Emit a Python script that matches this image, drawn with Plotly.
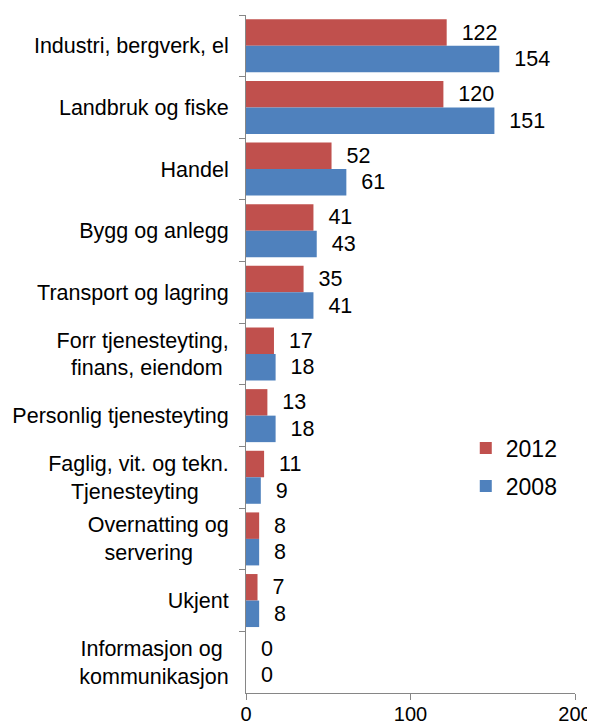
import plotly.graph_objects as go

categories = [
    "Industri, bergverk, el",
    "Landbruk og fiske",
    "Handel",
    "Bygg og anlegg",
    "Transport og lagring",
    "Forr tjenesteyting,<br>finans, eiendom\u00a0",
    "Personlig tjenesteyting",
    "Faglig, vit. og tekn.<br>Tjenesteyting" + "\u00a0" * 5,
    "Overnatting og<br>servering" + "\u00a0" * 6,
    "Ukjent",
    "Informasjon og\u00a0<br>kommunikasjon",
]
values_2012 = [122, 120, 52, 41, 35, 17, 13, 11, 8, 7, 0]
values_2008 = [154, 151, 61, 43, 41, 18, 18, 9, 8, 8, 0]
x_ticks = [0, 100, 200]

FONT = "Liberation Sans, Arial, sans-serif"
pad = "\u00a0\u00a0"
FS = 21.5

fig = go.Figure()
fig.add_trace(go.Bar(
    y=categories, x=values_2012, orientation="h", name="2012",
    marker=dict(color="#C0504D", line=dict(width=0)),
    text=[pad + str(v) for v in values_2012], textposition="outside",
    textfont=dict(family=FONT, size=FS, color="#000000"),
    cliponaxis=False, constraintext="none", legendgroup="a",
))
fig.add_trace(go.Bar(
    y=categories, x=values_2008, orientation="h", name="2008",
    marker=dict(color="#4F81BD", line=dict(width=0)),
    text=[pad + str(v) for v in values_2008], textposition="outside",
    textfont=dict(family=FONT, size=FS, color="#000000"),
    cliponaxis=False, constraintext="none", legendgroup="b",
))

# page body has an 8px default margin, so the figure is sized/offset to compensate
fig.update_layout(
    width=587, height=719,
    margin=dict(l=238, r=20, t=7, b=34),
    paper_bgcolor="white", plot_bgcolor="white",
    barmode="group", bargap=0.14, bargroupgap=0,
    font=dict(family=FONT, size=FS, color="#000000"),
    showlegend=True,
    legend=dict(x=0.668, y=0.393, xanchor="left", yanchor="top",
                font=dict(family=FONT, size=23, color="#000000"),
                traceorder="grouped", tracegroupgap=5,
                bgcolor="rgba(0,0,0,0)"),
    xaxis=dict(range=[0, 200], tickvals=x_ticks, ticktext=[str(t) for t in x_ticks],
               showgrid=False, zeroline=False, showline=True, linecolor="#868686",
               linewidth=1, ticks="outside", ticklen=6, tickcolor="#868686",
               automargin=False, ticklabelstandoff=-3,
               tickfont=dict(family=FONT, size=20, color="#000000")),
    yaxis=dict(autorange="reversed", showgrid=False, zeroline=False, showline=True,
               linecolor="#868686", linewidth=1, ticks="outside", ticklen=6,
               tickcolor="#868686", tickson="boundaries", ticklabelstandoff=12,
               automargin=False,
               tickfont=dict(family=FONT, size=FS, color="#000000")),
)

fig.write_html("out.html")
